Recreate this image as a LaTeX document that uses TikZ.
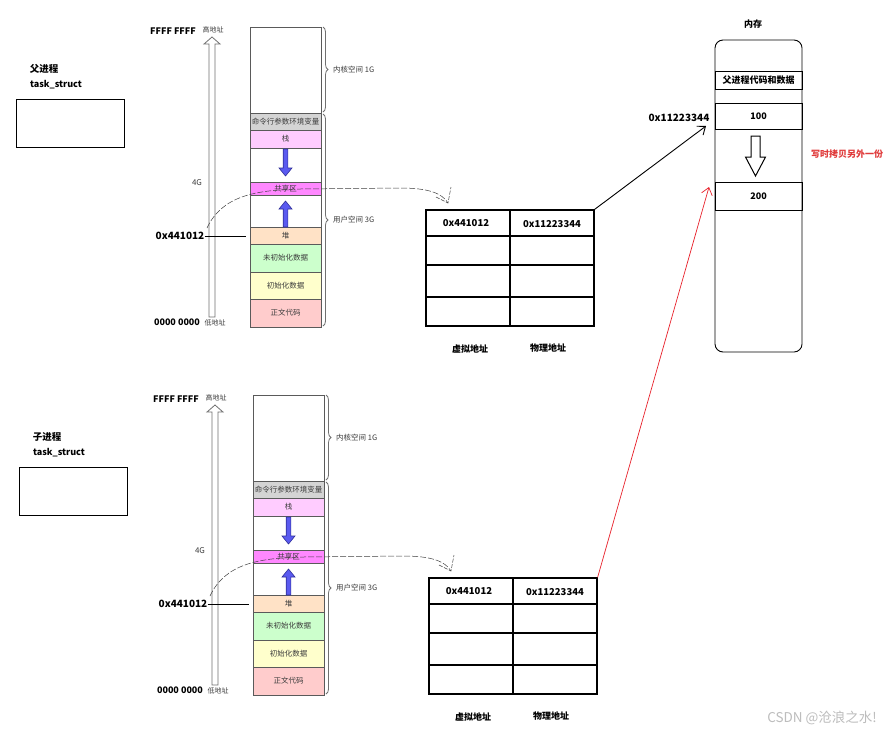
\documentclass[tikz,border=0pt]{standalone}
\usepackage{fontspec}
\setmainfont{Noto Sans CJK SC}
\usetikzlibrary{decorations.pathreplacing,arrows.meta}
\newcommand{\fs}[1]{\fontsize{#1pt}{#1pt}\selectfont}
\definecolor{segline}{HTML}{5A5A5A}
\definecolor{labgray}{HTML}{3C3C3C}
\definecolor{arrowgray}{HTML}{707070}
\definecolor{bracegray}{HTML}{707070}
\definecolor{curvegray}{HTML}{404040}
\definecolor{cmdgray}{HTML}{D4D4D4}
\definecolor{stackpink}{HTML}{FFCCFF}
\definecolor{sharemag}{HTML}{FF88FF}
\definecolor{heappeach}{HTML}{FFE2C6}
\definecolor{bssgreen}{HTML}{CCFFCC}
\definecolor{datayellow}{HTML}{FFFFCC}
\definecolor{textpink}{HTML}{FFCCCC}
\definecolor{bluefill}{HTML}{5A5AF0}
\definecolor{blueline}{HTML}{30309A}
\definecolor{redline}{HTML}{E8202A}
\definecolor{redtext}{HTML}{E03A3A}
\definecolor{wmgray}{HTML}{BDBDBD}
\tikzset{
  seg/.style={draw=segline, line width=0.9pt, minimum width=71pt, inner sep=0pt, font=\fs{7.5}, text=labgray},
  small/.style={font=\fs{7.5}, text=labgray, inner sep=0pt},
  boldlab/.style={font=\bfseries\fs{9}, inner sep=0pt},
  hollowarrow/.style={draw=arrowgray, line width=0.8pt, fill=white},
  bluearrow/.style={draw=blueline, fill=bluefill, line width=0.6pt},
  bracestyle/.style={decorate, decoration={brace, amplitude=5pt}, draw=bracegray, line width=0.8pt},
  tableline/.style={line width=1.2pt},
  dashcurve/.style={draw=curvegray, line width=0.5pt, dash pattern=on 6pt off 2pt},
  membox/.style={draw, line width=0.9pt, minimum width=87pt, inner sep=0pt},
}
\newcommand{\procblock}[1]{%
  \node[boldlab, font=\bfseries\fs{9.5}] (title) at (44,69) {#1};
  \node[boldlab] (ts) at (56,85) {task\_struct};
  \node[draw, line width=0.9pt, minimum width=108pt, minimum height=48pt] (tsbox) at (70,123) {};
  \node[boldlab] (ffff) at (173,31.5) {FFFF FFFF};
  \node[small, font=\fs{7}] (hi) at (213,30) {高地址};
  \draw[hollowarrow] (209,317) -- (209,44) -- (204,44) -- (212,37) -- (220,44) -- (215,44) -- (215,317) -- cycle;
  \node[small, font=\fs{8}] (fourg) at (197,183) {4G};
  \node[boldlab, font=\bfseries\fs{10}] (addr) at (180,236) {0x441012};
  \coordinate (addrend) at (246,236);
  \draw[line width=1pt] (addr.east) -- (addrend);
  \node[boldlab, font=\bfseries\fs{9}] (zero) at (177,322) {0000 0000};
  \node[small, font=\fs{7}] (lo) at (215,323) {低地址};
  % memory column
  \node[seg, minimum height=86pt] (kernel) at (285.5,70) {};
  \node[seg, fill=cmdgray, minimum height=17pt] (cmd) at (285.5,121.5) {命令行参数环境变量};
  \node[seg, fill=stackpink, minimum height=18pt] (stack) at (285.5,139) {栈};
  \node[seg, minimum height=34pt] (gapa) at (285.5,165) {};
  \node[seg, fill=sharemag, minimum height=13pt] (share) at (285.5,188.5) {共享区};
  \node[seg, minimum height=32pt] (gapb) at (285.5,211) {};
  \node[seg, fill=heappeach, minimum height=17pt] (heap) at (285.5,235.5) {堆};
  \node[seg, fill=bssgreen, minimum height=28pt] (bss) at (285.5,258) {未初始化数据};
  \node[seg, fill=datayellow, minimum height=27pt] (data) at (285.5,285.5) {初始化数据};
  \node[seg, fill=textpink, minimum height=28pt] (code) at (285.5,313) {正文代码};
  % braces
  \draw[bracestyle] (323,27) -- (323,112);
  \node[small, anchor=west] (kspace) at (333,70) {内核空间 1G};
  \draw[bracestyle] (323,114) -- (323,326);
  \node[small, anchor=west] (uspace) at (333,220) {用户空间 3G};
  % blue arrows
  \draw[bluearrow] (283.2,149) -- (287.8,149) -- (287.8,168) -- (292,168) -- (285.5,176) -- (279,168) -- (283.2,168) -- cycle;
  \draw[bluearrow] (283.2,227) -- (287.8,227) -- (287.8,209) -- (292,209) -- (285.5,201) -- (279,209) -- (283.2,209) -- cycle;
  % dashed curve
  \coordinate (cstart) at (207,228);
  \coordinate (cend) at (448,203);
  \draw[dashcurve] (cstart) .. controls (222,196) and (255,190) .. (300,189) -- (400,188) .. controls (428,188) and (442,193) .. (cend);
  \draw[dashcurve, dash pattern=on 4pt off 1.5pt] (436,197) -- (cend) -- (451,187);
  % table
  \node[draw, tableline, minimum width=168pt, minimum height=116pt, inner sep=0pt] (table) at (510,268) {};
  \draw[tableline] (426,236) -- (594,236);
  \draw[tableline] (426,265) -- (594,265);
  \draw[tableline] (426,297) -- (594,297);
  \draw[tableline] (510,210) -- (510,326);
  \node[boldlab, font=\bfseries\fs{9.5}] (va) at (466,223) {0x441012};
  \node[boldlab, font=\bfseries\fs{9.5}] (pa) at (552,224) {0x11223344};
  \node[boldlab] (valab) at (470,349) {虚拟地址};
  \node[boldlab] (palab) at (548,348) {物理地址};
}
\begin{document}
\begin{tikzpicture}[x=1pt,y=-1pt]
\useasboundingbox[fill=white] (0,0) rectangle (893,734);
\begin{scope}[name prefix=p-]
  \procblock{父进程}
\end{scope}
\begin{scope}[shift={(3,368)}, name prefix=c-]
  \procblock{子进程}
\end{scope}
% physical memory
\node[boldlab] (memlab) at (753,24) {内存};
\node[draw, line width=0.9pt, rounded corners=8pt, minimum width=87pt, minimum height=312pt, inner sep=0pt] (mem) at (758.5,196) {};
\node[membox, minimum height=18pt, font=\bfseries\fs{9}] (pdata) at (758.5,80) {父进程代码和数据};
\node[membox, minimum height=26pt, font=\bfseries\fs{9}] (v100) at (758.5,116) {100};
\node[membox, minimum height=28pt, font=\bfseries\fs{9}] (v200) at (758.5,196) {200};
\draw[line width=1pt, fill=white] (751,136) -- (760,136) -- (760,157) -- (765.5,157) -- (755.5,176) -- (745.5,157) -- (751,157) -- cycle;
\node[boldlab, font=\bfseries\fs{9}, text=redtext] (cow) at (847,154) {写时拷贝另外一份};
\node[boldlab, font=\bfseries\fs{10}] (phys) at (679,118) {0x11223344};
\coordinate (ptip) at (706,126);
\coordinate (ctip) at (709,187);
\draw[line width=0.9pt, -{Straight Barb[length=7pt,width=11pt]}] (p-table.north east) -- (ptip);
\draw[redline, line width=0.7pt, -{Straight Barb[length=7pt,width=11pt]}] (c-table.north east) -- (ctip);
\node[font=\fs{13.5}, text=wmgray, inner sep=0pt] (wm) at (822,718) {CSDN @沧浪之水!};
\end{tikzpicture}
\end{document}
